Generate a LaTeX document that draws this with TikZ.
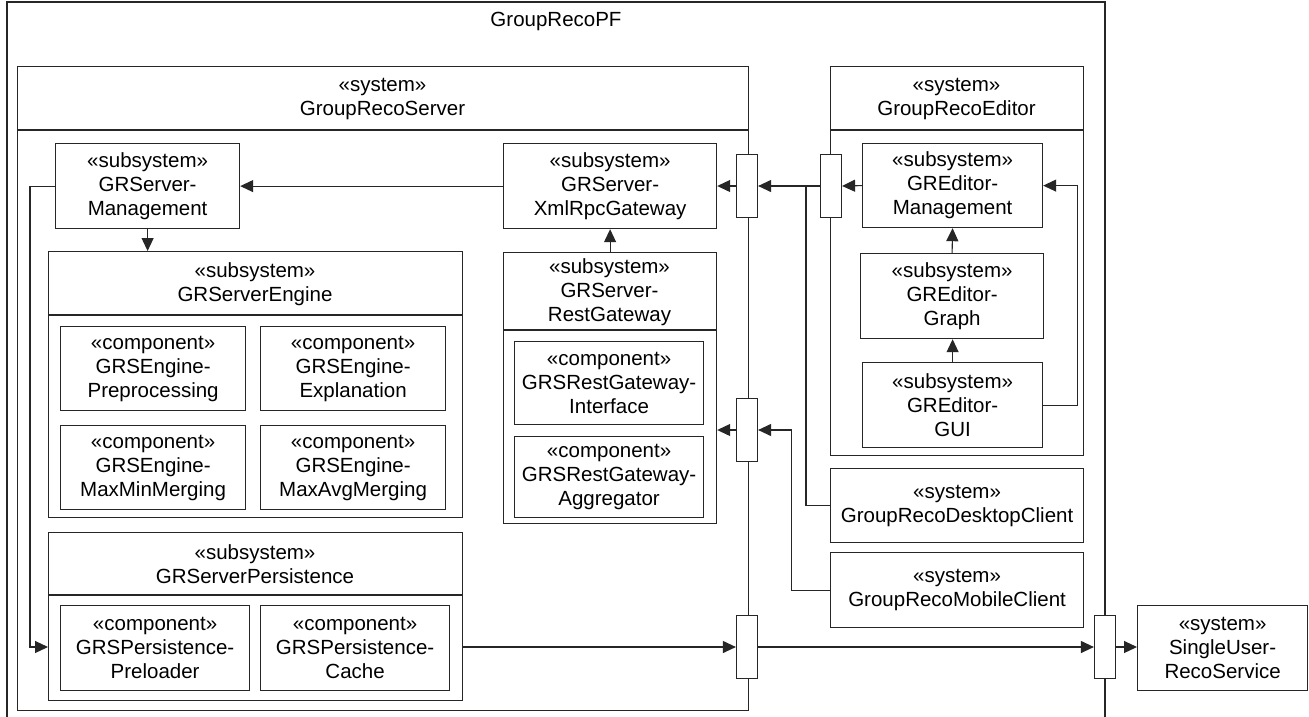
\documentclass[tikz,border=0pt]{standalone}
\usepackage{fontspec}
\setmainfont{Liberation Sans}
\usetikzlibrary{arrows.meta,calc}

\newcommand\diafont{\fontsize{20.5}{24}\selectfont}

% plain box with centred text: name, x1, y1, x2, y2, text
\newcommand\ubox[6]{%
  \node[umlbox, anchor=north west, minimum width={#4-#2}, minimum height={#5-#3}]
    (#1) at (#2,#3) {#6};}
% box with a header compartment: name, x1, y1, x2, y2, y of divider, header text
\newcommand\cbox[7]{%
  \node[umlbox, anchor=north west, minimum width={#4-#2}, minimum height={#5-#3}]
    (#1) at (#2,#3) {};
  \draw[frame] (#2,#6) -- (#4,#6);
  \node[label text] (#1-t) at ({(#2+#4)/2},{(#3+#6)/2+1}) {#7};}

\tikzset{
  frame/.style={line width=1.2pt, draw=black!85},
  umlbox/.style={frame, fill=white, inner sep=0pt, align=center, font=\diafont},
  label text/.style={inner sep=0pt, align=center, font=\diafont},
  port/.style={frame, fill=white, inner sep=0pt, minimum width=21pt, minimum height=63pt},
  conn/.style={line width=1.1pt, draw=black!85},
  arr/.style={conn, -{Triangle[length=13pt,width=12pt]}},
}

\begin{document}
\begin{tikzpicture}[x=1pt, y=-1pt]
\useasboundingbox (0,0) rectangle (1309,716);
\clip (0,0) rectangle (1309,716);
\fill[white] (0,0) rectangle (1309,716);

% outer package frame
\draw[frame] (7,2) rectangle (1105,730);
\node[label text] (pf) at (556,21) {GroupRecoPF};

% server system
\cbox{srv}{17}{66}{748}{710}{130}{«system»\\GroupRecoServer}
\ubox{mgmt}{55}{143}{239}{228}{«subsystem»\\GRServer-\\Management}
\ubox{xml}{503}{143}{716}{228}{«subsystem»\\GRServer-\\XmlRpcGateway}

\cbox{eng}{48}{251}{462}{517}{315}{«subsystem»\\GRServerEngine}
\ubox{pre}{60}{326}{245}{410}{«component»\\GRSEngine-\\Preprocessing}
\ubox{expl}{260}{326}{445}{410}{«component»\\GRSEngine-\\Explanation}
\ubox{mmin}{60}{425}{245}{509}{«component»\\GRSEngine-\\MaxMinMerging}
\ubox{mavg}{260}{425}{445}{509}{«component»\\GRSEngine-\\MaxAvgMerging}

\cbox{pers}{48}{532}{462}{700}{595}{«subsystem»\\GRServerPersistence}
\ubox{prel}{60}{605}{249}{690}{«component»\\GRSPersistence-\\Preloader}
\ubox{cache}{260}{605}{449}{690}{«component»\\GRSPersistence-\\Cache}

\cbox{rest}{503}{252}{716}{523}{330}{«subsystem»\\GRServer-\\RestGateway}
\ubox{rif}{514}{341}{703}{424}{«component»\\GRSRestGateway-\\Interface}
\ubox{ragg}{514}{436}{703}{517}{«component»\\GRSRestGateway-\\Aggregator}

% editor system
\cbox{edt}{830}{66}{1083}{455}{130}{«system»\\GroupRecoEditor}
\ubox{emgmt}{862}{143}{1042}{227}{«subsystem»\\GREditor-\\Management}
\ubox{egraph}{860}{253}{1043}{338}{«subsystem»\\GREditor-\\Graph}
\ubox{egui}{862}{362}{1042}{447}{«subsystem»\\GREditor-\\GUI}

% client systems and external service
\ubox{desk}{830}{468}{1083}{542}{«system»\\GroupRecoDesktopClient}
\ubox{mob}{830}{552}{1083}{627}{«system»\\GroupRecoMobileClient}
\ubox{sur}{1137}{605}{1307}{690}{«system»\\SingleUser-\\RecoService}

% ports on the system borders
\node[port] (p1) at (747,186) {};
\node[port] (pe) at (831,186) {};
\node[port] (p2) at (747,430) {};
\node[port] (p3) at (747,647) {};
\node[port] (p4) at (1105,647) {};

% connectors inside the server
\draw[arr] (xml.west) -- (mgmt.east);
\draw[arr] (p1.west) -- (p1.west -| xml.east);
\draw[arr] (rest.north) -- (xml.south);
\draw[arr] (mgmt.south) -- (mgmt.south |- eng.north);
\draw[arr] (mgmt.west) -| ($(pers.west |- p3)+(-18,0)$) -- (pers.west |- p3);
\draw[arr] (p2.west) -- (p2.west -| rest.east);
\draw[arr] (pers.east |- p3) -- (p3.west);

% connectors inside the editor
\draw[arr] (emgmt.west) -- (pe.east);
\draw[arr] (egraph.north) -- (emgmt.south);
\draw[arr] (egui.north) -- (egui.north |- egraph.south);
\draw[arr] (egui.east) -- ++(34,0) |- (emgmt.east);

% connectors between systems
\coordinate (j1) at (806,186);
\draw[arr] (pe.west) -- (p1.east);
\draw[conn] (desk.west) -| (j1);
\draw[arr] (mob.west) -| ($(p2.east)+(33,0)$) -- (p2.east);
\draw[arr] (p3.east) -- (p4.west);
\draw[arr] (p4.east) -- (sur.west |- p4);
\end{tikzpicture}
\end{document}
